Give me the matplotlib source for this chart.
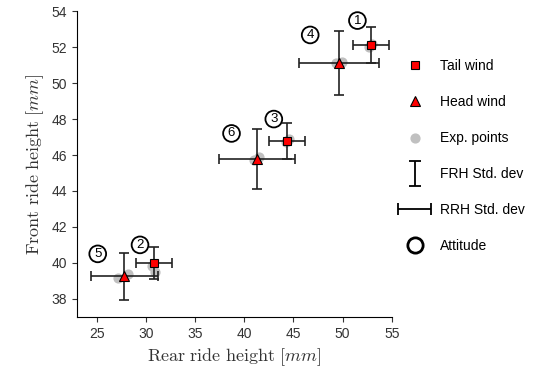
import matplotlib
matplotlib.use("Agg")
import matplotlib.pyplot as plt
from matplotlib.legend_handler import HandlerErrorbar
import numpy as np

plt.rcParams['font.family'] = ['Liberation Sans', 'DejaVu Sans']
plt.rcParams['mathtext.fontset'] = 'cm'

# tail wind (square) : attitudes 1, 3, 2
tail_rrh = [52.9, 44.35, 30.8]
tail_frh = [52.13, 46.8, 39.98]
tail_rrh_std = [1.85, 1.85, 1.85]
tail_frh_std = [1.0, 1.0, 0.9]

# head wind (triangle) : attitudes 4, 6, 5
head_rrh = [49.65, 41.3, 27.8]
head_frh = [51.12, 45.78, 39.25]
head_rrh_std = [4.05, 3.9, 3.4]
head_frh_std = [1.8, 1.67, 1.3]

# experimental points
exp_rrh = [52.7, 53.0, 49.3, 49.9, 44.2, 44.5, 41.0, 41.5, 30.6, 30.9, 27.2, 28.2]
exp_frh = [52.0, 52.2, 51.1, 51.2, 46.7, 46.9, 45.7, 45.9, 39.8, 39.5, 39.13, 39.4]

att_labels = ['1', '4', '3', '6', '2', '5']
att_x = [51.5, 46.7, 43.0, 38.7, 29.4, 25.1]
att_y = [53.48, 52.68, 48.0, 47.2, 41.0, 40.5]

fig = plt.figure(figsize=(5.39, 3.74), dpi=100)
ax = fig.add_axes([0.143, 0.153, 0.584, 0.817])

ax.scatter(exp_rrh, exp_frh, s=40, color='#c0c0c0', zorder=2, label='Exp. points')

ekw = dict(fmt='none', ecolor='#222222', elinewidth=1.2, capsize=3.5, capthick=1.2, zorder=3)
ax.errorbar(tail_rrh, tail_frh, xerr=tail_rrh_std, yerr=tail_frh_std, **ekw)
ax.errorbar(head_rrh, head_frh, xerr=head_rrh_std, yerr=head_frh_std, **ekw)

ax.plot(tail_rrh, tail_frh, 's', color='red', mec='black', mew=0.8, ms=6, ls='none', zorder=4, label='Tail wind')
ax.plot(head_rrh, head_frh, '^', color='red', mec='black', mew=0.8, ms=7.5, ls='none', zorder=4, label='Head wind')

for lab, x, y in zip(att_labels, att_x, att_y):
    ax.text(x, y, lab, ha='center', va='center', fontsize=9.5,
            bbox=dict(boxstyle='circle,pad=0.18', fc='white', ec='black', lw=1.3))

# legend dummies
frh_eb = ax.errorbar([np.nan], [np.nan], yerr=[1], fmt='none', ecolor='black', elinewidth=1.3, capsize=4, capthick=1.3)
rrh_eb = ax.errorbar([np.nan], [np.nan], xerr=[1], fmt='none', ecolor='black', elinewidth=1.3, capsize=4, capthick=1.3)
att_h, = ax.plot([], [], 'o', mfc='white', mec='black', mew=2, ms=11, ls='none')

h, l = ax.get_legend_handles_labels()
handles = [h[l.index('Tail wind')], h[l.index('Head wind')], h[l.index('Exp. points')], frh_eb, rrh_eb, att_h]
labels = ['Tail wind', 'Head wind', 'Exp. points', 'FRH Std. dev', 'RRH Std. dev', 'Attitude']
fig.legend(handles, labels, loc='upper left', bbox_to_anchor=(0.715, 0.875), frameon=False,
           fontsize=10, labelspacing=1.58, handlelength=2.4, handletextpad=0.6,
           handler_map={frh_eb: HandlerErrorbar(xerr_size=0.5, yerr_size=0.9),
                        rrh_eb: HandlerErrorbar(xerr_size=1.2)})

ax.set_xlim(23, 55)
ax.set_ylim(37, 54)
ax.set_xticks(range(25, 56, 5))
ax.set_yticks(range(38, 55, 2))
ax.spines['top'].set_visible(False)
ax.spines['right'].set_visible(False)
ax.tick_params(labelsize=10, colors='#333333')
ax.set_xlabel(r'$\mathrm{Rear\ ride\ height}\ [mm]$', fontsize=13, color='#333333')
ax.set_ylabel(r'$\mathrm{Front\ ride\ height}\ [mm]$', fontsize=13, color='#333333')

fig.savefig('out.png', dpi=100)
